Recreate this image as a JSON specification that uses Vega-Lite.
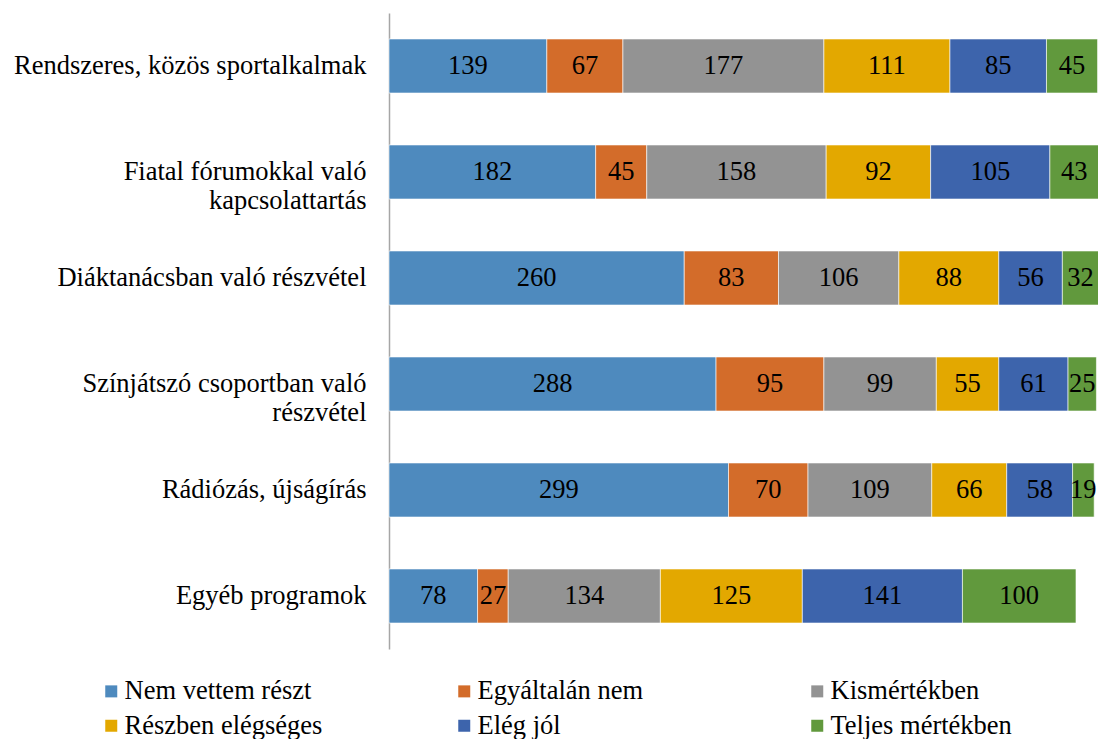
{
  "$schema": "https://vega.github.io/schema/vega-lite/v6.json",
  "width": 708,
  "height": 636,
  "autosize": {"type": "none"},
  "padding": {"left": 389, "top": 13, "right": 1, "bottom": 90},
  "background": "white",
  "config": {
    "view": {"stroke": null},
    "font": "Liberation Serif",
    "text": {"font": "Liberation Serif"},
    "legend": {"labelFont": "Liberation Serif"},
    "axis": {"labelFont": "Liberation Serif"}
  },
  "data": {
    "values": [
      {"category": "Rendszeres, közös sportalkalmak", "series": "Nem vettem részt", "value": 139},
      {"category": "Rendszeres, közös sportalkalmak", "series": "Egyáltalán nem", "value": 67},
      {"category": "Rendszeres, közös sportalkalmak", "series": "Kismértékben", "value": 177},
      {"category": "Rendszeres, közös sportalkalmak", "series": "Részben elégséges", "value": 111},
      {"category": "Rendszeres, közös sportalkalmak", "series": "Elég jól", "value": 85},
      {"category": "Rendszeres, közös sportalkalmak", "series": "Teljes mértékben", "value": 45},
      {"category": "Fiatal fórumokkal való kapcsolattartás", "series": "Nem vettem részt", "value": 182},
      {"category": "Fiatal fórumokkal való kapcsolattartás", "series": "Egyáltalán nem", "value": 45},
      {"category": "Fiatal fórumokkal való kapcsolattartás", "series": "Kismértékben", "value": 158},
      {"category": "Fiatal fórumokkal való kapcsolattartás", "series": "Részben elégséges", "value": 92},
      {"category": "Fiatal fórumokkal való kapcsolattartás", "series": "Elég jól", "value": 105},
      {"category": "Fiatal fórumokkal való kapcsolattartás", "series": "Teljes mértékben", "value": 43},
      {"category": "Diáktanácsban való részvétel", "series": "Nem vettem részt", "value": 260},
      {"category": "Diáktanácsban való részvétel", "series": "Egyáltalán nem", "value": 83},
      {"category": "Diáktanácsban való részvétel", "series": "Kismértékben", "value": 106},
      {"category": "Diáktanácsban való részvétel", "series": "Részben elégséges", "value": 88},
      {"category": "Diáktanácsban való részvétel", "series": "Elég jól", "value": 56},
      {"category": "Diáktanácsban való részvétel", "series": "Teljes mértékben", "value": 32},
      {"category": "Színjátszó csoportban való részvétel", "series": "Nem vettem részt", "value": 288},
      {"category": "Színjátszó csoportban való részvétel", "series": "Egyáltalán nem", "value": 95},
      {"category": "Színjátszó csoportban való részvétel", "series": "Kismértékben", "value": 99},
      {"category": "Színjátszó csoportban való részvétel", "series": "Részben elégséges", "value": 55},
      {"category": "Színjátszó csoportban való részvétel", "series": "Elég jól", "value": 61},
      {"category": "Színjátszó csoportban való részvétel", "series": "Teljes mértékben", "value": 25},
      {"category": "Rádiózás, újságírás", "series": "Nem vettem részt", "value": 299},
      {"category": "Rádiózás, újságírás", "series": "Egyáltalán nem", "value": 70},
      {"category": "Rádiózás, újságírás", "series": "Kismértékben", "value": 109},
      {"category": "Rádiózás, újságírás", "series": "Részben elégséges", "value": 66},
      {"category": "Rádiózás, újságírás", "series": "Elég jól", "value": 58},
      {"category": "Rádiózás, újságírás", "series": "Teljes mértékben", "value": 19},
      {"category": "Egyéb programok", "series": "Nem vettem részt", "value": 78},
      {"category": "Egyéb programok", "series": "Egyáltalán nem", "value": 27},
      {"category": "Egyéb programok", "series": "Kismértékben", "value": 134},
      {"category": "Egyéb programok", "series": "Részben elégséges", "value": 125},
      {"category": "Egyéb programok", "series": "Elég jól", "value": 141},
      {"category": "Egyéb programok", "series": "Teljes mértékben", "value": 100}
    ]
  },
  "transform": [
    {"window": [{"op": "row_number", "as": "idx"}], "groupby": ["category"]}
  ],
  "encoding": {
    "y": {
      "field": "category",
      "type": "nominal",
      "sort": null,
      "scale": {"paddingInner": 0.49, "paddingOuter": 0.245},
      "axis": {
        "title": null,
        "ticks": false,
        "grid": false,
        "domain": true,
        "domainColor": "#A6A6A6",
        "domainWidth": 1.5,
        "labelFont": "Liberation Serif",
        "labelFontSize": 26.5,
        "labelColor": "#000000",
        "labelPadding": 23,
        "labelLimit": 400,
        "labelLineHeight": 29,
        "labelExpr": "datum.label == 'Fiatal fórumokkal való kapcsolattartás' ? ['Fiatal fórumokkal való', 'kapcsolattartás'] : datum.label == 'Színjátszó csoportban való részvétel' ? ['Színjátszó csoportban való', 'részvétel'] : datum.label"
      }
    },
    "x": {
      "field": "value",
      "type": "quantitative",
      "stack": "zero",
      "scale": {"domain": [0, 623.5], "nice": false},
      "axis": null
    },
    "order": {"field": "idx", "type": "quantitative", "sort": "ascending"}
  },
  "layer": [
    {
      "mark": {"type": "bar", "stroke": "#ffffff", "strokeWidth": 0.6},
      "encoding": {
        "color": {
          "field": "series",
          "type": "nominal",
          "scale": {
            "domain": ["Nem vettem részt", "Egyáltalán nem", "Kismértékben", "Részben elégséges", "Elég jól", "Teljes mértékben"],
            "range": ["#4E8ABE", "#D36C2A", "#939393", "#E3A800", "#3D64AC", "#61993D"]
          },
          "legend": {
            "title": null,
            "orient": "none",
            "legendX": -291,
            "legendY": 665,
            "direction": "horizontal",
            "columns": 3,
            "gridAlign": "all",
            "columnPadding": 128,
            "rowPadding": 7.5,
            "symbolType": "square",
            "symbolSize": 144,
            "symbolStrokeWidth": 0,
            "labelFont": "Liberation Serif",
            "labelFontSize": 26.5,
            "labelColor": "#000000",
            "labelOffset": 0,
            "labelLimit": 400
          }
        }
      }
    },
    {
      "mark": {"type": "text", "font": "Liberation Serif", "fontSize": 26.5, "color": "#000000", "align": "center", "baseline": "middle"},
      "encoding": {
        "x": {"field": "value", "type": "quantitative", "stack": "zero", "bandPosition": 0.5},
        "detail": {"field": "series", "type": "nominal"},
        "text": {"field": "value", "type": "quantitative"}
      }
    }
  ]
}
